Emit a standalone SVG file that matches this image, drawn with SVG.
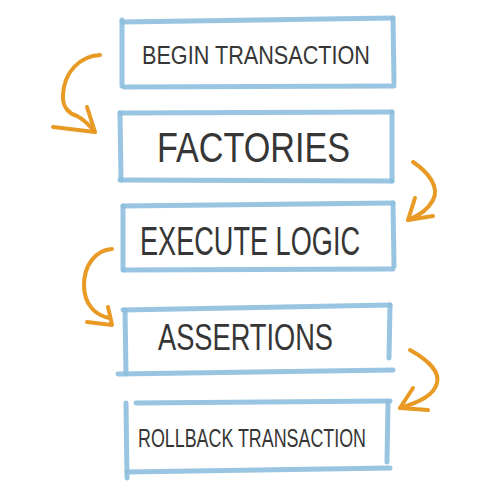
<svg xmlns="http://www.w3.org/2000/svg" width="500" height="500" viewBox="0 0 500 500">
<defs>
<style>
.box line{stroke:#8fbfdf;stroke-width:5;stroke-linecap:round;opacity:0.9}
.lbl{font-family:"Liberation Sans","DejaVu Sans",sans-serif;fill:#363636;text-anchor:start}
.arr path{fill:none;stroke:#e89a25;stroke-width:4;stroke-linecap:round;stroke-linejoin:round}
</style>
</defs>
<rect width="500" height="500" fill="#fff"/>
<g id="n1" class="box">
<line x1="122" y1="22" x2="393" y2="18"/>
<line x1="393" y1="18" x2="394" y2="82"/>
<line x1="124" y1="87" x2="394" y2="86"/>
<line x1="122" y1="20" x2="122" y2="86"/>
<text class="lbl" x="142" y="64" font-size="26" textLength="228" lengthAdjust="spacingAndGlyphs">BEGIN TRANSACTION</text>
</g>
<g id="n2" class="box">
<line x1="120" y1="113" x2="392" y2="112"/>
<line x1="392" y1="112" x2="392" y2="181"/>
<line x1="120" y1="180" x2="392" y2="181"/>
<line x1="120" y1="113" x2="121" y2="180"/>
<text class="lbl" x="157" y="162" font-size="42" textLength="193" lengthAdjust="spacingAndGlyphs">FACTORIES</text>
</g>
<g id="n3" class="box">
<line x1="123" y1="206" x2="393" y2="203"/>
<line x1="393" y1="203" x2="394" y2="266"/>
<line x1="124" y1="270" x2="393" y2="269"/>
<line x1="123" y1="206" x2="123" y2="270"/>
<text class="lbl" x="140" y="255" font-size="40" textLength="220" lengthAdjust="spacingAndGlyphs">EXECUTE LOGIC</text>
</g>
<g id="n4" class="box">
<line x1="123" y1="310" x2="390" y2="305"/>
<line x1="390" y1="305" x2="389" y2="358"/>
<line x1="118" y1="374" x2="393" y2="370"/>
<line x1="125" y1="310" x2="126" y2="374"/>
<text class="lbl" x="158" y="350" font-size="37" textLength="175" lengthAdjust="spacingAndGlyphs">ASSERTIONS</text>
</g>
<g id="n5" class="box">
<line x1="136" y1="403" x2="390" y2="401"/>
<line x1="388" y1="403" x2="387" y2="462"/>
<line x1="127" y1="472" x2="390" y2="468"/>
<line x1="126" y1="403" x2="127" y2="478"/>
<text class="lbl" x="138" y="447" font-size="26" textLength="228" lengthAdjust="spacingAndGlyphs">ROLLBACK TRANSACTION</text>
</g>
<g id="connectors" class="arr">
<path d="M100 55 C80 56 64 72 63 95 C62 108 70 114 77 116 C85 120 90 126 95 132"/>
<path d="M87 107 L95 132 L53 127"/>
<path d="M413 162 C428 172 440 187 433 200 C428 210 418 216 408 220"/>
<path d="M415 198 L408 220 L433 216"/>
<path d="M112 249 C95 250 84 266 84 285 C84 305 96 316 110 318"/>
<path d="M108 307 L112 325 L87 322"/>
<path d="M410 350 C428 360 440 372 437 383 C434 395 420 402 400 408"/>
<path d="M413 388 L400 408 L428 410"/>
</g>
</svg>
